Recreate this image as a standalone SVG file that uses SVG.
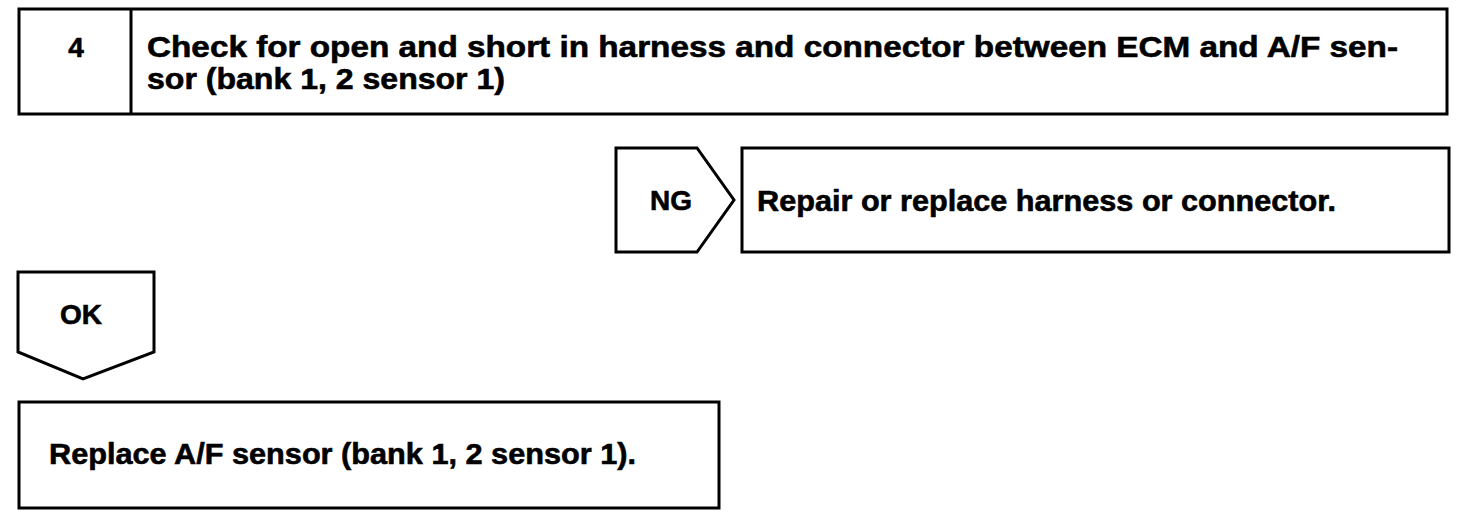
<svg xmlns="http://www.w3.org/2000/svg" width="1472" height="528" viewBox="0 0 1472 528">
<style>
.box{fill:#fff;stroke:#000;stroke-width:3}
.t{font-family:"Liberation Sans",Arial,sans-serif;font-weight:bold;font-size:30px;fill:#000;stroke:#000;stroke-width:0.6}
.s{font-size:28px}
</style>
<rect width="1472" height="528" fill="#fff"/>
<g id="step4">
<rect class="box" x="19" y="9" width="1428" height="105"/>
<line x1="131" y1="9" x2="131" y2="114" stroke="#000" stroke-width="3"/>
<text class="t s" x="76" y="57" text-anchor="middle">4</text>
<text class="t" x="147" y="57" textLength="1251" lengthAdjust="spacingAndGlyphs">Check for open and short in harness and connector between ECM and A/F sen-</text>
<text class="t" x="147" y="89" textLength="358" lengthAdjust="spacingAndGlyphs">sor (bank 1, 2 sensor 1)</text>
</g>
<g id="ng">
<polygon class="box" points="616,148 697,148 734,200 697,252 616,252"/>
<text class="t s" x="671" y="210" text-anchor="middle">NG</text>
</g>
<g id="repair">
<rect class="box" x="742" y="148" width="707" height="104"/>
<text class="t" x="757" y="211" textLength="579" lengthAdjust="spacingAndGlyphs">Repair or replace harness or connector.</text>
</g>
<g id="ok">
<polygon class="box" points="18,272 154,272 154,352 83,379 18,352"/>
<text class="t s" x="81" y="324" text-anchor="middle">OK</text>
</g>
<g id="replace">
<rect class="box" x="19" y="402" width="700" height="106"/>
<text class="t" x="49" y="464" textLength="587" lengthAdjust="spacingAndGlyphs">Replace A/F sensor (bank 1, 2 sensor 1).</text>
</g>
<g id="connectors"></g>
</svg>
